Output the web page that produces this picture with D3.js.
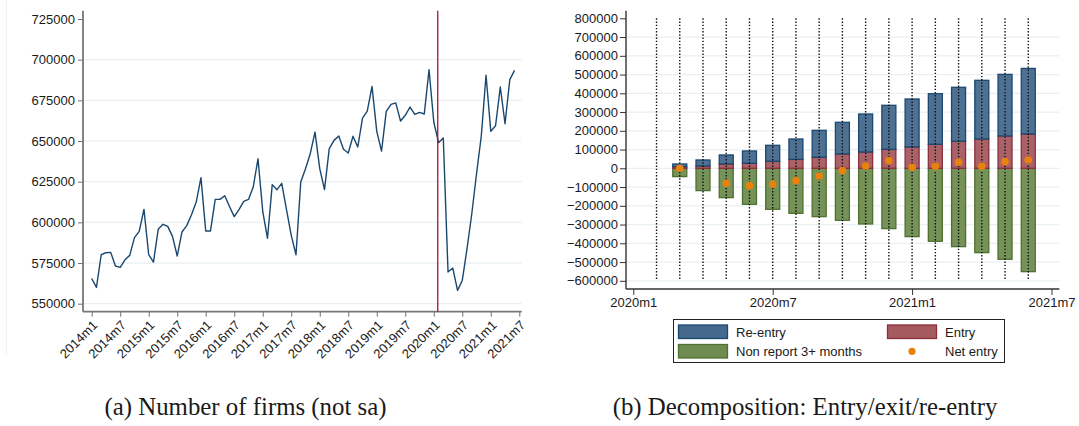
<!DOCTYPE html>
<html>
<head>
<meta charset="utf-8">
<script src="https://cdn.jsdelivr.net/npm/d3@7/dist/d3.min.js"></script>
<style>
  body { margin: 0; background: #fff; }
  svg text { font-family: "Liberation Sans", Arial, sans-serif; fill: #1a1a1a; }
  .caption { font-family: "Liberation Serif", "DejaVu Serif", serif; }
</style>
</head>
<body>
<svg id="chart" width="1079" height="426"></svg>
<script>
// ---- panel (a): number of firms, monthly from 2014m1 ----
const firmStart = [2014, 1];
const firmCount = [
  565500, 560000, 580100, 581350, 581560, 573150, 572300, 577000, 579700, 590600,
  594500, 608000, 580100, 575600, 595700, 598800, 597500, 591400, 579300, 594100,
  598000, 604700, 612500, 627500, 594700, 594700, 614100, 614100, 616400, 609800,
  603500, 607800, 612900, 614100, 621700, 639100, 606800, 590200, 623200, 620100,
  624000, 607800, 592000, 580100, 624800, 633000, 642200, 655500, 633000, 620100,
  645300, 650400, 653100, 644900, 642600, 652900, 646300, 664100, 668400, 683600,
  655900, 643800, 668200, 672500, 673400, 662300, 665800, 670900, 666400, 667600,
  666600, 693800, 661700, 649000, 651800, 569500, 571900, 558200, 564300, 583800,
  605300, 629900, 653100, 690400, 655900, 659400, 683200, 660600, 687700, 693400
];
const firmYTicks = [550000, 575000, 600000, 625000, 650000, 675000, 700000, 725000];
const firmXTicks = ['2014m1','2014m7','2015m1','2015m7','2016m1','2016m7','2017m1','2017m7',
  '2018m1','2018m7','2019m1','2019m7','2020m1','2020m7','2021m1','2021m7'];
const eventMonth = '2020m2';

// ---- panel (b): decomposition, monthly ----
const decMonths = ['2020m3','2020m4','2020m5','2020m6','2020m7','2020m8','2020m9','2020m10',
  '2020m11','2020m12','2021m1','2021m2','2021m3','2021m4','2021m5','2021m6'];
const entry = [8900, 12400, 23100, 26700, 37300, 48000, 58700, 76400,
  86900, 101300, 113600, 128000, 144000, 156300, 172300, 182900];
const reEntry = [14200, 32000, 48000, 65700, 85400, 108300, 144000, 168900,
  202700, 234700, 256000, 269900, 288000, 313000, 328700, 349900];
const nonReport = [-44400, -119000, -156400, -192000, -218700, -240000, -257800, -277300,
  -296900, -321800, -364400, -389300, -417800, -449800, -485300, -551100];
const netEntry = [0, null, -80000, -92400, -85300, -65800, -40900, -12400,
  12400, 40900, 5300, 10700, 32000, 10700, 35600, 44400];
const spikeMonths = ['2020m2','2020m3','2020m4','2020m5','2020m6','2020m7','2020m8','2020m9',
  '2020m10','2020m11','2020m12','2021m1','2021m2','2021m3','2021m4','2021m5','2021m6'];
const decYTicks = [-600000,-500000,-400000,-300000,-200000,-100000,0,100000,
  200000,300000,400000,500000,600000,700000,800000];
const decXTicks = ['2020m1','2020m7','2021m1','2021m7'];

const legendItems = [
  { label: 'Re-entry', key: 're' },
  { label: 'Entry', key: 'en' },
  { label: 'Non report 3+ months', key: 'nr' },
  { label: 'Net entry', key: 'net' }
];
const captions = ['(a) Number of firms (not sa)', '(b) Decomposition: Entry/exit/re-entry'];

// month label -> months since a base
function monthIndex(label, base) {
  const [y, m] = label.split('m').map(Number);
  return (y - base[0]) * 12 + (m - base[1]);
}

const colors = {
  re: { fill: '#44698d', stroke: '#1c4870' },
  en: { fill: '#a55a60', stroke: '#8c2f3b' },
  nr: { fill: '#6e8c50', stroke: '#4f7030' },
  net: '#e8820c',
  line: '#1a476f',
  event: '#b0112e',
  grid: '#e9f0f2'
};

const svg = d3.select('#chart');

// faint panel frame on the left
svg.append('line').attr('x1', 6.5).attr('x2', 6.5).attr('y1', 0).attr('y2', 355)
  .attr('stroke', '#eef2f3');

// ================= panel (a) =================
const A = { left: 83, right: 521.7, top: 10.7, bottom: 311.7 };
const xA = d3.scaleLinear().domain([0, 90]).range([91.7, 519.3]);
const yA = d3.scaleLinear().domain([550000, 725000]).range([303.7, 19]);

const gA = svg.append('g');

// gridlines
gA.selectAll('.gridA').data(firmYTicks.filter(v => v < 725000)).enter()
  .append('line')
  .attr('x1', A.left).attr('x2', A.right)
  .attr('y1', d => yA(d)).attr('y2', d => yA(d))
  .attr('stroke', colors.grid).attr('stroke-width', 1.2);

// y axis
const yAxisA = gA.append('g').attr('transform', `translate(${A.left},0)`)
  .call(d3.axisLeft(yA).tickValues(firmYTicks).tickSize(5).tickPadding(3).tickFormat(d3.format('d')));
yAxisA.select('.domain').remove();
yAxisA.selectAll('.tick line').attr('stroke', '#6f6f6f');
yAxisA.selectAll('text').attr('font-size', 13);
gA.append('line').attr('x1', A.left).attr('x2', A.left).attr('y1', A.top).attr('y2', A.bottom)
  .attr('stroke', '#777').attr('stroke-width', 1.8);

// x axis
const xAxisA = gA.append('g').attr('transform', `translate(0,${A.bottom})`)
  .call(d3.axisBottom(xA)
    .tickValues(firmXTicks.map(t => monthIndex(t, firmStart)))
    .tickSize(5)
    .tickFormat((d, i) => firmXTicks[i]));
xAxisA.select('.domain').remove();
xAxisA.selectAll('.tick line').attr('stroke', '#6f6f6f');
xAxisA.selectAll('text')
  .attr('font-size', 13)
  .attr('x', 0).attr('y', 0).attr('dy', '0.35em')
  .attr('text-anchor', 'end')
  .attr('transform', 'translate(3,11) rotate(-45)');
gA.append('line').attr('x1', A.left).attr('x2', A.right).attr('y1', A.bottom).attr('y2', A.bottom)
  .attr('stroke', '#777').attr('stroke-width', 1.8);

// series line
const lineA = d3.line().x((d, i) => xA(i)).y(d => yA(d));
gA.append('path').datum(firmCount)
  .attr('fill', 'none').attr('stroke', colors.line).attr('stroke-width', 1.4)
  .attr('stroke-linejoin', 'round')
  .attr('d', lineA);

// event line
const ev = xA(monthIndex(eventMonth, firmStart)) - 0.8;
gA.append('line').attr('x1', ev).attr('x2', ev).attr('y1', A.top).attr('y2', A.bottom)
  .attr('stroke', colors.event).attr('stroke-width', 1.3);

// ================= panel (b) =================
const B = { left: 626, right: 1059.3, top: 10.7, bottom: 289 };
const decBase = [2020, 1];
const xB = d3.scaleLinear().domain([0, 18]).range([633.3, 1051.5]);
const yB = d3.scaleLinear().domain([-600000, 800000]).range([280.8, 18.3]);
const barW = 14;

const gB = svg.append('g');

gB.selectAll('.gridB').data(decYTicks.filter(v => v < 800000)).enter()
  .append('line')
  .attr('x1', B.left).attr('x2', B.right)
  .attr('y1', d => yB(d)).attr('y2', d => yB(d))
  .attr('stroke', colors.grid).attr('stroke-width', 1.2);

const yAxisB = gB.append('g').attr('transform', `translate(${B.left},0)`)
  .call(d3.axisLeft(yB).tickValues(decYTicks).tickSize(6).tickPadding(2).tickFormat(d3.format('d')));
yAxisB.select('.domain').remove();
yAxisB.selectAll('.tick line').attr('stroke', '#333');
yAxisB.selectAll('text').attr('font-size', 13);
gB.append('line').attr('x1', B.left).attr('x2', B.left).attr('y1', B.top).attr('y2', B.bottom)
  .attr('stroke', '#333').attr('stroke-width', 1.4);

const xAxisB = gB.append('g').attr('transform', `translate(0,${B.bottom})`)
  .call(d3.axisBottom(xB)
    .tickValues(decXTicks.map(t => monthIndex(t, decBase)))
    .tickSize(6).tickPadding(3)
    .tickFormat((d, i) => decXTicks[i]));
xAxisB.select('.domain').remove();
xAxisB.selectAll('.tick line').attr('stroke', '#333');
xAxisB.selectAll('text').attr('font-size', 13);
gB.append('line').attr('x1', B.left).attr('x2', B.right).attr('y1', B.bottom).attr('y2', B.bottom)
  .attr('stroke', '#333').attr('stroke-width', 1.4);

const decRows = decMonths.map((m, i) => ({
  x: xB(monthIndex(m, decBase)),
  en: entry[i], re: reEntry[i], nr: nonReport[i], net: netEntry[i]
}));

function bar(sel, y0f, y1f, c) {
  sel.append('rect')
    .attr('x', d => d.x - barW / 2)
    .attr('width', barW)
    .attr('y', d => Math.min(yB(y0f(d)), yB(y1f(d))))
    .attr('height', d => Math.abs(yB(y0f(d)) - yB(y1f(d))))
    .attr('fill', c.fill).attr('fill-opacity', 0.95)
    .attr('stroke', c.stroke).attr('stroke-width', 1.3);
}
const barsG = gB.append('g').selectAll('g').data(decRows).enter().append('g');
bar(barsG, d => 0, d => d.nr, colors.nr);
bar(barsG, d => 0, d => d.en, colors.en);
bar(barsG, d => d.en, d => d.en + d.re, colors.re);

// dotted spikes
gB.selectAll('.spike').data(spikeMonths).enter().append('line')
  .attr('x1', d => xB(monthIndex(d, decBase))).attr('x2', d => xB(monthIndex(d, decBase)))
  .attr('y1', yB(800000)).attr('y2', yB(-595000))
  .attr('stroke', '#111').attr('stroke-width', 1.4).attr('stroke-dasharray', '1.4,1.8');

// net entry dots
gB.selectAll('.net').data(decRows.filter(d => d.net !== null)).enter().append('circle')
  .attr('cx', d => d.x).attr('cy', d => yB(d.net)).attr('r', 3.8)
  .attr('fill', colors.net);

// legend
const lg = svg.append('g');
lg.append('rect').attr('x', 673.5).attr('y', 319.5).attr('width', 331).attr('height', 43)
  .attr('fill', '#fff').attr('stroke', '#222').attr('stroke-width', 1);
const lpos = [
  { sx: 678.5, tx: 736, y: 325 },
  { sx: 887.5, tx: 945, y: 325 },
  { sx: 678.5, tx: 736, y: 344.5 },
  { sx: 887.5, tx: 945, y: 344.5 }
];
legendItems.forEach((it, i) => {
  const p = lpos[i];
  if (it.key === 'net') {
    lg.append('circle').attr('cx', 912).attr('cy', p.y + 6.8).attr('r', 3.6).attr('fill', colors.net);
  } else {
    lg.append('rect').attr('x', p.sx).attr('y', p.y).attr('width', 49).attr('height', 13.5)
      .attr('fill', colors[it.key].fill).attr('stroke', colors[it.key].stroke).attr('stroke-width', 1.3);
  }
  lg.append('text').attr('x', p.tx).attr('y', p.y + 7).attr('dy', '0.35em')
    .attr('font-size', 13).text(it.label);
});

// captions: one common size, set from the total width they take in the paper
const capPos = [{ cx: 245.5, w: 245 }, { cx: 805, w: 422 }];
const capNodes = captions.map((c, i) => svg.append('text').attr('class', 'caption')
  .attr('x', capPos[i].cx).attr('y', 415).attr('text-anchor', 'middle')
  .attr('font-size', 20).attr('fill', '#111').text(c));
const measured = capNodes.reduce((s, t) => s + t.node().getComputedTextLength(), 0);
const capSize = 20 * (capPos[0].w + capPos[1].w) / measured;
capNodes.forEach(t => t.attr('font-size', capSize));
</script>
</body>
</html>
